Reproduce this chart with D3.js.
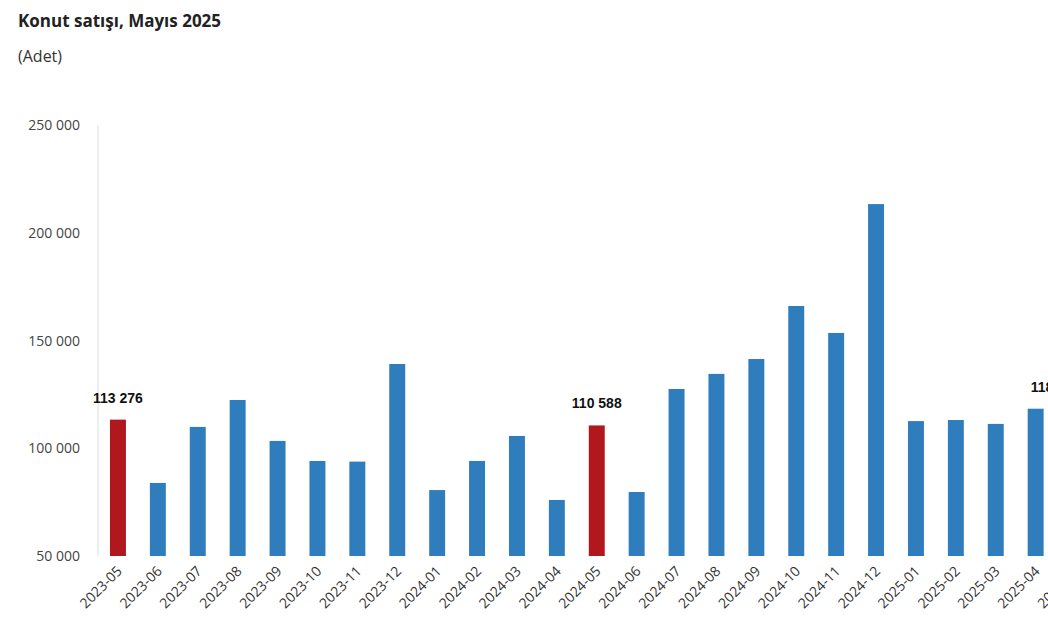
<!DOCTYPE html>
<html>
<head>
<meta charset="utf-8">
<script src="https://cdn.jsdelivr.net/npm/d3@7"></script>
<style>
  body { margin: 0; background: #fff; font-family: "Open Sans", "Noto Sans", sans-serif; overflow: hidden; }
</style>
</head>
<body>
<div id="chart"></div>
<script>
// data
const months = ["2023-05","2023-06","2023-07","2023-08","2023-09","2023-10","2023-11","2023-12",
  "2024-01","2024-02","2024-03","2024-04","2024-05","2024-06","2024-07","2024-08","2024-09","2024-10",
  "2024-11","2024-12","2025-01","2025-02","2025-03","2025-04","2025-05"];
const sales = [113276, 83900, 109900, 122400, 103400, 94100, 93800, 139100,
  80600, 94100, 105700, 76000, 110588, 79700, 127500, 134500, 141400, 166000,
  153500, 213300, 112600, 113100, 111300, 118353, 130025];
const highlighted = ["2023-05", "2024-05", "2025-05"];
const labelled = ["2023-05", "2024-05", "2025-04"];
const yTicks = [50000, 100000, 150000, 200000, 250000];

const width = 1048, height = 631;
const svg = d3.select("#chart").append("svg")
    .attr("width", width)
    .attr("height", height);

const fmt = v => d3.format(",")(v).replace(/,/g, " ");

// title
svg.append("text").attr("x", 18).attr("y", 27)
    .style("font-size", "17px").style("font-weight", "bold").attr("fill", "#222")
    .text("Konut satışı, Mayıs 2025");
svg.append("text").attr("x", 18).attr("y", 62)
    .style("font-size", "16px").attr("fill", "#333")
    .text("(Adet)");

// scales
const x = d3.scaleBand().domain(months).range([98, 1095.5])
    .paddingInner(0.6).paddingOuter(0.3);
const y = d3.scaleLinear().domain([50000, 250000]).range([556, 125]);

// y axis
svg.append("line").attr("x1", 98).attr("x2", 98).attr("y1", 125).attr("y2", 556)
    .attr("stroke", "#ddd");
svg.selectAll(".ytick").data(yTicks).enter().append("text")
    .attr("class", "ytick")
    .attr("x", 80).attr("y", d => y(d) + 5)
    .attr("text-anchor", "end")
    .style("font-size", "14px").attr("fill", "#444")
    .text(fmt);

// bars
svg.selectAll(".bar").data(months).enter().append("rect")
    .attr("class", "bar")
    .attr("x", d => x(d))
    .attr("width", x.bandwidth())
    .attr("y", (d, i) => y(sales[i]))
    .attr("height", (d, i) => 556 - y(sales[i]))
    .attr("fill", d => highlighted.includes(d) ? "#b0181d" : "#2f7dbd");

// value labels
svg.selectAll(".val").data(months.filter(d => labelled.includes(d))).enter().append("text")
    .attr("class", "val")
    .attr("x", d => x(d) + x.bandwidth() / 2 + (d === "2025-04" ? 20 : 0))
    .attr("y", d => y(sales[months.indexOf(d)]) - 17)
    .attr("text-anchor", "middle")
    .style("font-family", "Liberation Sans, Arial, sans-serif")
    .style("font-size", "14px").style("font-weight", "bold").attr("fill", "#111")
    .text(d => fmt(sales[months.indexOf(d)]));

// x labels
svg.selectAll(".xtick").data(months).enter().append("text")
    .attr("class", "xtick")
    .attr("transform", d => `translate(${x(d) + x.bandwidth() / 2 + 5},572) rotate(-45)`)
    .attr("text-anchor", "end")
    .style("font-size", "14px").attr("fill", "#333")
    .text(d => d);
</script>
</body>
</html>
